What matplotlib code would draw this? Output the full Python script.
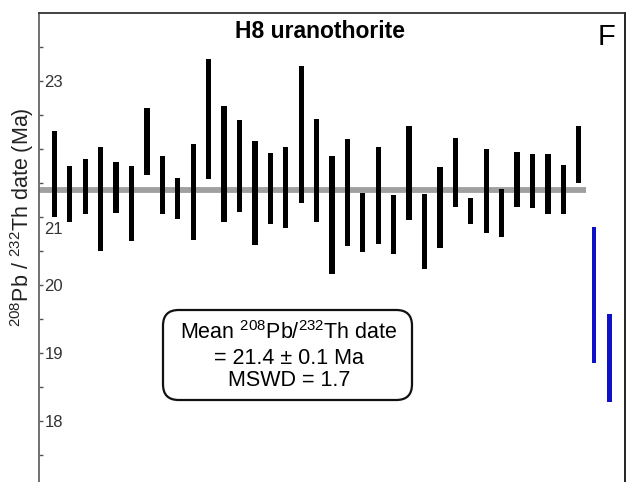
import matplotlib
matplotlib.use("Agg")
import matplotlib.pyplot as plt
from matplotlib.patches import FancyBboxPatch
from matplotlib.transforms import ScaledTranslation
import numpy as np

plt.rcParams['font.family'] = ['Liberation Sans', 'DejaVu Sans']
plt.rcParams['mathtext.fontset'] = 'custom'
plt.rcParams['mathtext.rm'] = 'Liberation Sans'
plt.rcParams['mathtext.it'] = 'Liberation Sans:italic'
plt.rcParams['mathtext.bf'] = 'Liberation Sans:bold'

# Analyses included in the mean (black) : 2-sigma date ranges (Ma)
upper = [22.26, 21.75, 21.85, 22.03, 21.81, 21.75, 22.61, 21.89, 21.58, 22.08,
         23.33, 22.63, 22.42, 22.12, 21.94, 22.03, 23.22, 22.44, 21.89, 22.15,
         21.36, 22.03, 21.33, 22.34, 21.34, 21.74, 22.16, 21.28, 22.00, 21.41,
         21.95, 21.93, 21.92, 21.76, 22.34]
lower = [21.00, 20.93, 21.05, 20.50, 21.06, 20.65, 21.62, 21.05, 20.97, 20.66,
         21.56, 20.93, 21.07, 20.59, 20.89, 20.84, 21.20, 20.92, 20.16, 20.58,
         20.48, 20.61, 20.45, 20.96, 20.23, 20.54, 21.14, 20.90, 20.77, 20.70,
         21.15, 21.13, 21.05, 21.05, 21.50]
# Rejected analyses (blue)
rej_upper = [20.85, 19.58]
rej_lower = [18.85, 18.28]

mean_date = 21.4
ytick_vals = [18, 19, 20, 21, 23]
ytick_labels = ['18', '19', '20', '21', '23']

fig = plt.figure(figsize=(6.27, 4.82), dpi=100)
W, H = 627, 482
left, right, top, bottom = 39, 625, 13, 489
ax = fig.add_axes([left / W, 1 - bottom / H, (right - left) / W, (bottom - top) / H])

n = len(upper)
x = np.arange(1, n + 1)
ax.bar(x, np.array(upper) - np.array(lower), bottom=lower, width=0.34,
       color='black', zorder=3)
xr = np.arange(n + 1, n + 1 + len(rej_upper))
ax.bar(xr, np.array(rej_upper) - np.array(rej_lower), bottom=rej_lower, width=0.30,
       color='#1010c8', zorder=3)
ax.hlines(mean_date, 0, n + 0.5, color='#a0a0a0', lw=4.2, zorder=2)

ax.set_xlim(0, 38)
ax.set_ylim(17, 24)
ax.set_xticks([])
ax.set_yticks(np.arange(17.5, 24.0, 0.5))
ax.set_yticklabels([ytick_labels[ytick_vals.index(v)] if v in ytick_vals else ''
                    for v in np.arange(17.5, 24.0, 0.5)])
ax.tick_params(axis='y', direction='in', length=3, width=1, color='#555555',
               pad=-4, labelsize=12, labelcolor='#333333')
for lab in ax.get_yticklabels():
    lab.set_horizontalalignment('left')
for tk in ax.yaxis.get_major_ticks():
    if abs(tk.get_loc() - 21) < 1e-6:
        tk.label1.set_transform(tk.label1.get_transform() +
                                ScaledTranslation(0, -11 / 100, fig.dpi_scale_trans))

ax.spines['bottom'].set_visible(False)
ax.spines['left'].set_color('#666666')
ax.spines['top'].set_color('#333333')
ax.spines['right'].set_color('#111111')
for s in ['left', 'top', 'right']:
    ax.spines[s].set_linewidth(1.3)

fig.text(320 / W, 1 - 32 / H, 'H8 uranothorite', ha='center', va='center',
         fontsize=16.5, fontweight='bold')
fig.text(607 / W, 1 - 37 / H, 'F', ha='center', va='center', fontsize=21)
fig.text(22 / W, 1 - 217 / H, r'$^{208}$Pb / $^{232}$Th date (Ma)', rotation=90,
         ha='center', va='center', fontsize=15.5, color='#222222')

box = FancyBboxPatch((163 / W, 1 - 400 / H), (412 - 163) / W, (400 - 310) / H,
                     boxstyle='round,pad=0,rounding_size=0.025',
                     transform=fig.transFigure, fc='white', ec='#111111', lw=1.6,
                     mutation_aspect=W / H)
fig.patches.append(box)
fig.text(289 / W, 1 - 333 / H, r'Mean $^{208}$Pb/$^{232}$Th date', ha='center',
         va='center', fontsize=15.5)
fig.text(289 / W, 1 - 358 / H, '= 21.4 ± 0.1 Ma', ha='center', va='center',
         fontsize=15.5)
fig.text(289 / W, 1 - 380 / H, 'MSWD = 1.7', ha='center', va='center',
         fontsize=15.5)

fig.savefig('out.png', dpi=100)
